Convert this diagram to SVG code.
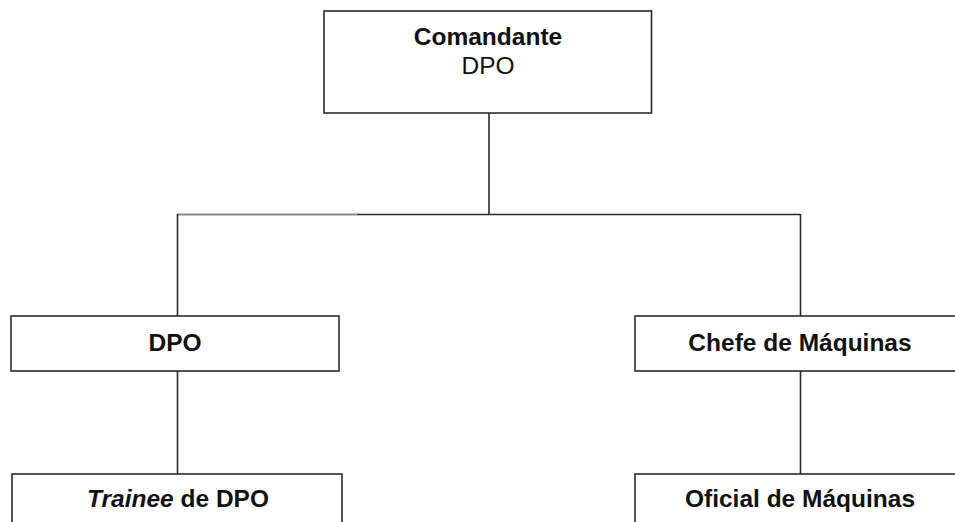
<svg xmlns="http://www.w3.org/2000/svg" width="955" height="522" viewBox="0 0 955 522">
<style>
.box{fill:#fff;stroke:#2b2b2b;stroke-width:1.6}
.t{font-family:"Liberation Sans",Arial,sans-serif;font-size:24.5px;fill:#111;text-anchor:middle}
.b{font-weight:bold}
.c{stroke:#2b2b2b;stroke-width:1.6;fill:none}
</style>
<rect width="955" height="522" fill="#fff"/>
<g id="connectors">
<line class="c" x1="489" y1="113" x2="489" y2="214.5"/>
<line class="c" x1="357" y1="214.5" x2="800.5" y2="214.5"/>
<line x1="177.5" y1="214.5" x2="357" y2="214.5" stroke="#8a8a8a" stroke-width="1.8"/>
<line class="c" x1="177.5" y1="214" x2="177.5" y2="316"/>
<line class="c" x1="800.5" y1="214" x2="800.5" y2="316"/>
<line class="c" x1="177.5" y1="371" x2="177.5" y2="474"/>
<line class="c" x1="800.5" y1="371" x2="800.5" y2="474"/>
</g>
<g id="comandante">
<rect class="box" x="324" y="11" width="327.5" height="102"/>
<text class="t b" x="488" y="45">Comandante</text>
<text class="t" x="488" y="74" fill="#222">DPO</text>
</g>
<g id="dpo">
<rect class="box" x="11" y="316" width="328" height="55"/>
<text class="t b" x="175" y="351">DPO</text>
</g>
<g id="chefe">
<rect class="box" x="635" y="316" width="330" height="55"/>
<text class="t b" x="800" y="351">Chefe de Máquinas</text>
</g>
<g id="trainee">
<rect class="box" x="12" y="474" width="330" height="60"/>
<text class="t b" x="178" y="507"><tspan font-style="italic">Trainee</tspan> de DPO</text>
</g>
<g id="oficial">
<rect class="box" x="635" y="474" width="330" height="60"/>
<text class="t b" x="800" y="507">Oficial de Máquinas</text>
</g>
</svg>
